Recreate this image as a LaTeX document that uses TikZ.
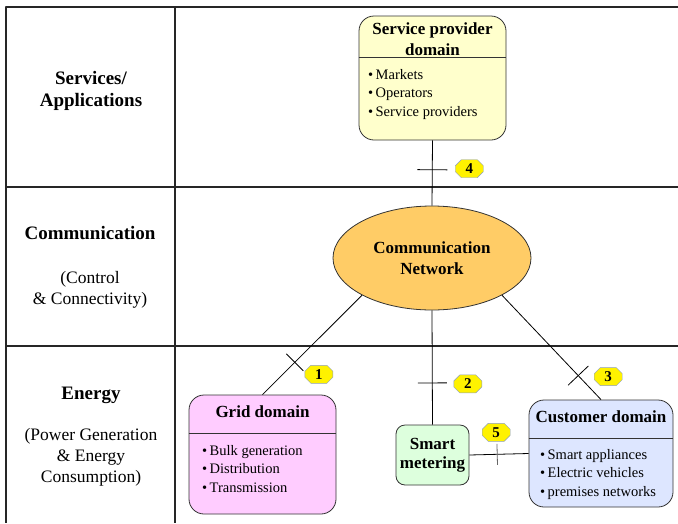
\documentclass[tikz,border=0pt]{standalone}
\usepackage{fontspec}
\setmainfont{Liberation Serif}
\usetikzlibrary{shapes.geometric,shapes.misc,calc}
\definecolor{spfill}{HTML}{FFFFCC}
\definecolor{gridfill}{HTML}{FFCCFF}
\definecolor{smfill}{HTML}{DDFFDD}
\definecolor{custfill}{HTML}{DDE6FF}
\definecolor{netfill}{HTML}{FFCC66}
\definecolor{badgeline}{HTML}{8A9CC6}
\tikzset{
	frame/.style={line width=1.1pt,black!85},
	lab/.style={font=\fontsize{19}{22}\selectfont\bfseries,align=center,inner sep=0pt},
	sublab/.style={font=\fontsize{17.5}{21}\selectfont,align=center,inner sep=0pt},
	dombox/.style={draw=black!80,line width=0.8pt,rounded corners=15pt,inner sep=0pt},
	head/.style={font=\fontsize{17}{20.5}\selectfont\bfseries,align=center,inner sep=0pt},
	items/.style={font=\fontsize{14.5}{18.5}\selectfont,align=left,anchor=north west,inner sep=0pt},
	badge/.style={chamfered rectangle,chamfered rectangle xsep=3pt,chamfered rectangle ysep=3pt,
		draw=badgeline,fill=yellow,minimum width=28pt,minimum height=18pt,inner sep=0pt,
		font=\fontsize{15}{15}\selectfont\bfseries},
	conn/.style={line width=0.8pt,black}
}
\begin{document}
\begin{tikzpicture}[x=1pt,y=-1pt,line join=round]
	\useasboundingbox (0,0) rectangle (678,523);
	% table
	\draw[frame] (678,7) -- (6,7) -- (6,523);
	\draw[frame] (175,7) -- (175,523);
	\draw[frame] (6,187) -- (678,187);
	\draw[frame] (6,346) -- (678,346);
	% row labels
	\node[lab] (svc) at (91,91) {Services/\\Applications};
	\node[lab] (com) at (90,233) {Communication};
	\node[sublab] (ctl) at (90,289.5) {(Control\\\& Connectivity)};
	\node[lab] (eng) at (91,395) {Energy};
	\node[sublab] (pwr) at (91,457) {(Power Generation\\\& Energy\\Consumption)};
	% domains
	\node[dombox,fill=spfill,minimum width=147pt,minimum height=124pt] (sp) at (432.5,78) {};
	\node[head] (sph) at (432.5,39) {Service provider\\domain};
	\draw[black!80,line width=0.8pt] (sp.west |- 0,57) -- (sp.east |- 0,57);
	\node[items] (spi) at (368,69) {\textbullet\,Markets\\\textbullet\,Operators\\\textbullet\,Service providers};

	\node[ellipse,draw=black!80,line width=0.8pt,fill=netfill,minimum width=198pt,minimum height=104pt,
		inner sep=0pt,font=\fontsize{17}{20.5}\selectfont\bfseries,align=center] (cn) at (432,258) {Communication\\Network};

	\node[dombox,fill=gridfill,minimum width=147pt,minimum height=119pt] (grid) at (262.5,454.5) {};
	\node[head] (gridh) at (262.5,412) {Grid domain};
	\draw[black!80,line width=0.8pt] (grid.west |- 0,433) -- (grid.east |- 0,433);
	\node[items] (gridi) at (202,445) {\textbullet\,Bulk generation\\\textbullet\,Distribution\\\textbullet\,Transmission};

	\node[dombox,rounded corners=9pt,fill=smfill,minimum width=73pt,minimum height=60pt] (sm) at (432.5,455) {};
	\node[head,font=\fontsize{17}{19}\selectfont\bfseries] (smh) at (432.5,455.5) {Smart\\metering};

	\node[dombox,fill=custfill,minimum width=144pt,minimum height=107pt] (cust) at (601,453.5) {};
	\node[head] (custh) at (601,417) {Customer domain};
	\draw[black!80,line width=0.8pt] (cust.west |- 0,438) -- (cust.east |- 0,438);
	\node[items] (custi) at (540,449) {\textbullet\,Smart appliances\\\textbullet\,Electric vehicles\\\textbullet\,premises networks};

	% connectors with ticks
	\draw[conn] (sp.south) -- coordinate[pos=.45] (t4) (cn.north);
	\draw[conn] ($(t4)!15pt!90:(cn.north)$) -- ($(t4)!15pt!-90:(cn.north)$);
	\node[badge] (b4) at ($(t4)+(37,-1)$) {4};

	\draw[conn] (cn.208) -- coordinate[pos=.675] (t1) (grid.north);
	\draw[conn] ($(t1)!12pt!90:(grid.north)$) -- ($(t1)!12pt!-90:(grid.north)$);
	\node[badge] (b1) at ($(t1)+(24,12)$) {1};

	\draw[conn] (cn.south) -- coordinate[pos=.635] (t2) (sm.north);
	\draw[conn] ($(t2)!14.5pt!90:(sm.north)$) -- ($(t2)!14.5pt!-90:(sm.north)$);
	\node[badge] (b2) at ($(t2)+(35.5,1)$) {2};

	\draw[conn] (cn.332) -- coordinate[pos=.77] (t3) (cust.north);
	\draw[conn] ($(t3)!14pt!90:(cust.north)$) -- ($(t3)!14pt!-90:(cust.north)$);
	\node[badge] (b3) at ($(t3)+(30,1)$) {3};

	\draw[conn] (sm.east) -- coordinate[pos=.47] (t5) (cust.west);
	\draw[conn,black!60] ($(t5)!10.5pt!90:(cust.west)$) -- ($(t5)!10.5pt!-90:(cust.west)$);
	\node[badge] (b5) at ($(t5)+(-1,-22)$) {5};
\end{tikzpicture}
\end{document}
